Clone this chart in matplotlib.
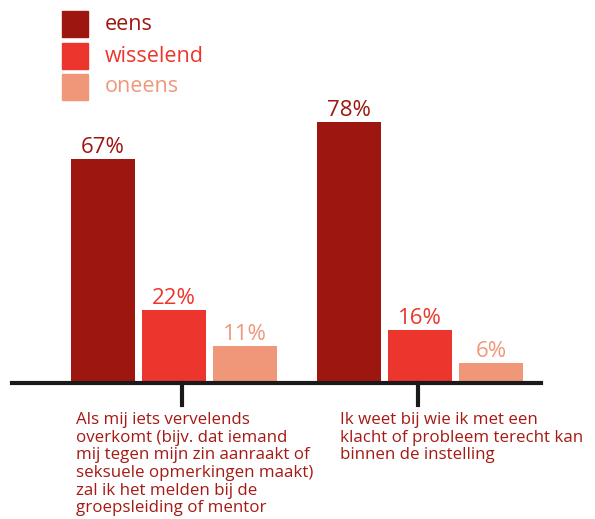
import matplotlib
matplotlib.use("Agg")
import matplotlib.pyplot as plt
from matplotlib.patches import Rectangle

series = ["eens", "wisselend", "oneens"]
colors = ["#9E1610", "#EC352C", "#F0977A"]
values = [[67, 22, 11], [78, 16, 6]]  # per group: eens, wisselend, oneens
labels = [
    "Als mij iets vervelends\noverkomt (bijv. dat iemand\nmij tegen mijn zin aanraakt of\nseksuele opmerkingen maakt)\nzal ik het melden bij de\ngroepsleiding of mentor",
    "Ik weet bij wie ik met een\nklacht of probleem terecht kan\nbinnen de instelling",
]

W, H = 595, 519
plt.rcParams['font.family'] = ['Open Sans', 'DejaVu Sans']
fig = plt.figure(figsize=(W / 100, H / 100), dpi=100)

def fx(px):
    return px / W

def fy(py):
    return 1 - py / H

# axes: x in pixel units, y in percent
x0, x1 = 12, 541
base = 383
ppu = 3.34  # pixels per percent
ax = fig.add_axes([fx(x0), fy(base), fx(x1) - fx(x0), base / H])
ax.set_xlim(x0, x1)
ax.set_ylim(0, base / ppu)
ax.axis('off')

group_start = [71, 317]
bw, gap = 64, 7
for g, vals in enumerate(values):
    for i, v in enumerate(vals):
        left = group_start[g] + i * (bw + gap)
        ax.bar(left, v, width=bw, align='edge', color=colors[i], linewidth=0)
        ax.text(left + bw / 2, v + 0.3, f"{v}%", ha='center', va='bottom',
                fontsize=16, color=colors[i])

# baseline and ticks
fig.add_artist(plt.Line2D([fx(x0), fx(x1)], [fy(base), fy(base)], color='#1a1a1a', lw=3))
tick_x = [182, 418]
for tx in tick_x:
    fig.add_artist(plt.Line2D([fx(tx), fx(tx)], [fy(base), fy(405)], color='#1a1a1a', lw=3))

label_x = [76, 340]
for lx, lab in zip(label_x, labels):
    fig.text(fx(lx), fy(412), lab, ha='left', va='top', fontsize=12.2,
             color='#A51A14', linespacing=1.14)

# legend
leg_y = [11, 43, 74]
for i, (s, c) in enumerate(zip(series, colors)):
    fig.add_artist(Rectangle((fx(62), fy(leg_y[i] + 26)), fx(26), 26 / H, color=c,
                             transform=fig.transFigure))
    fig.text(fx(105), fy(leg_y[i] + 13), s, ha='left', va='center', fontsize=15.5, color=c)

fig.savefig("out.png", dpi=100)
